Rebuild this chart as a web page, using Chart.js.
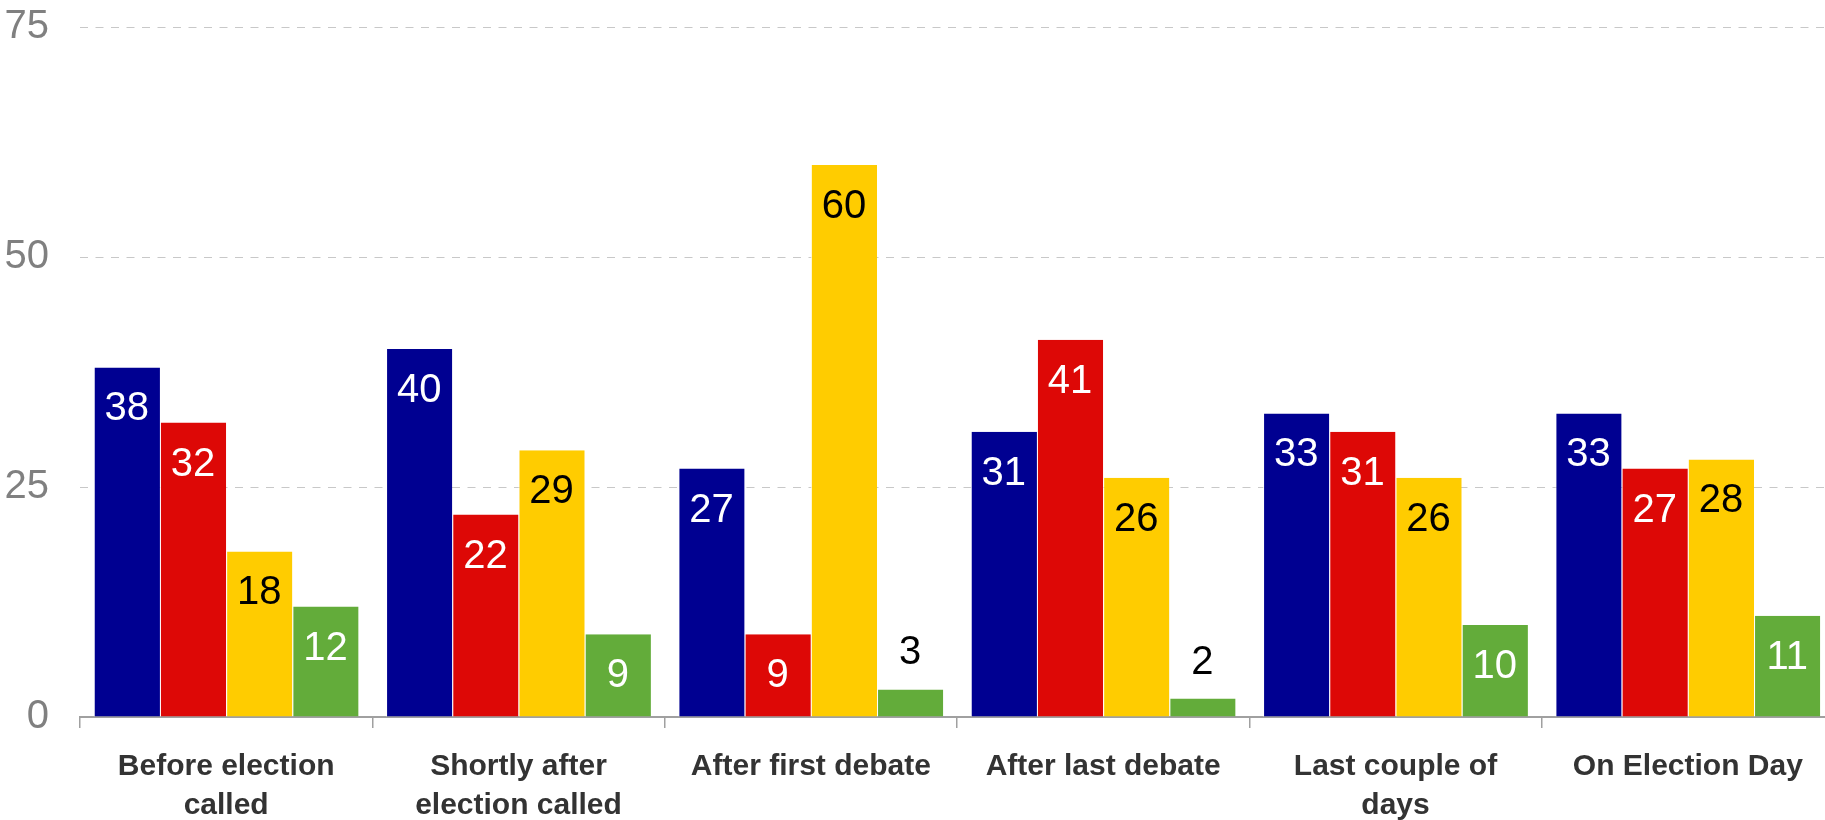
<!DOCTYPE html>
<html>
<head>
<meta charset="utf-8">
<script src="https://cdn.jsdelivr.net/npm/chart.js@4"></script>
<style>
  html, body { margin: 0; padding: 0; background: #fff; overflow: hidden; }
  #wrap { width: 1834px; height: 820px; position: relative; }
</style>
</head>
<body>
<div id="wrap"><canvas id="myChart"></canvas></div>
<script>
const categories = [
  ['Before election', 'called'],
  ['Shortly after', 'election called'],
  'After first debate',
  'After last debate',
  ['Last couple of', 'days'],
  'On Election Day'
];
const seriesNames = ['Conservative', 'Labour', 'Liberal Democrat', 'Other'];
const blueValues = [38, 40, 27, 31, 33, 33];
const redValues = [32, 22, 9, 41, 31, 27];
const yellowValues = [18, 29, 60, 26, 26, 28];
const greenValues = [12, 9, 3, 2, 10, 11];
const yTicks = [0, 25, 50, 75];

const barColors = ['rgb(0, 0, 145)', 'rgb(221, 8, 6)', 'rgb(255, 204, 0)', 'rgb(99, 172, 58)'];
const labelColors = ['#fff', '#fff', '#000', '#fff'];

// draws value labels inside the top of each bar (or above it when the bar is short)
const barLabels = {
  id: 'barLabels',
  afterDatasetsDraw(chart) {
    const ctx = chart.ctx;
    ctx.save();
    ctx.font = '40px "Liberation Sans", Arial, sans-serif';
    ctx.textAlign = 'center';
    ctx.textBaseline = 'alphabetic';
    chart.data.datasets.forEach((ds, i) => {
      const meta = chart.getDatasetMeta(i);
      meta.data.forEach((bar, j) => {
        const h = bar.base - bar.y;
        if (h < 60) {
          ctx.fillStyle = '#000';
          ctx.fillText(ds.data[j], bar.x, bar.y - 25);
        } else {
          ctx.fillStyle = labelColors[i];
          ctx.fillText(ds.data[j], bar.x, bar.y + 53);
        }
      });
    });
    ctx.restore();
  }
};

const allValues = [blueValues, redValues, yellowValues, greenValues];

const barData = {
  labels: categories,
  datasets: allValues.map((vals, i) => ({
    label: seriesNames[i],
    data: vals,
    backgroundColor: barColors[i],
    borderColor: 'rgba(255,255,255,0.85)',
    borderWidth: { left: 1, right: 0, top: 0, bottom: 0 },
    borderSkipped: false,
    categoryPercentage: 0.906,
    barPercentage: 1
  }))
};

const configBar = {
  type: 'bar',
  data: barData,
  options: {
    responsive: true,
    maintainAspectRatio: false,
    animation: false,
    layout: { padding: { top: 27, left: 0, right: 0, bottom: 0 } },
    plugins: {
      legend: { display: false },
      tooltip: { enabled: false }
    },
    scales: {
      x: {
        offset: true,
        grid: {
          offset: true,
          drawOnChartArea: false,
          drawTicks: true,
          tickLength: 11,
          color: '#a0a0a0',
          lineWidth: 1.5
        },
        border: { display: true, color: '#a0a0a0', width: 2 },
        ticks: {
          color: '#333',
          padding: 19,
          maxRotation: 0,
          autoSkip: false,
          font: { family: '"Liberation Sans", Arial, sans-serif', size: 30, weight: 'bold', lineHeight: 1.3 }
        },
        afterFit(scale) { scale.height = 103; }
      },
      y: {
        min: 0,
        max: 75,
        afterBuildTicks(scale) { scale.ticks = yTicks.map(v => ({ value: v })); },
        grid: {
          drawTicks: false,
          color: (c) => c.tick && c.tick.value === 0 ? 'rgba(0,0,0,0)' : '#c8c8c8',
          lineWidth: 1
        },
        border: { display: false, dash: [8, 7.5] },
        ticks: {
          color: '#808080',
          padding: 31,
          font: { family: '"Liberation Sans", Arial, sans-serif', size: 40 }
        },
        afterFit(scale) {
          scale.width = 80;
          scale.paddingTop = 0;
          scale.paddingBottom = 0;
        }
      }
    }
  },
  plugins: [barLabels]
};

const myChart = new Chart(document.getElementById('myChart'), configBar);
</script>
</body>
</html>
